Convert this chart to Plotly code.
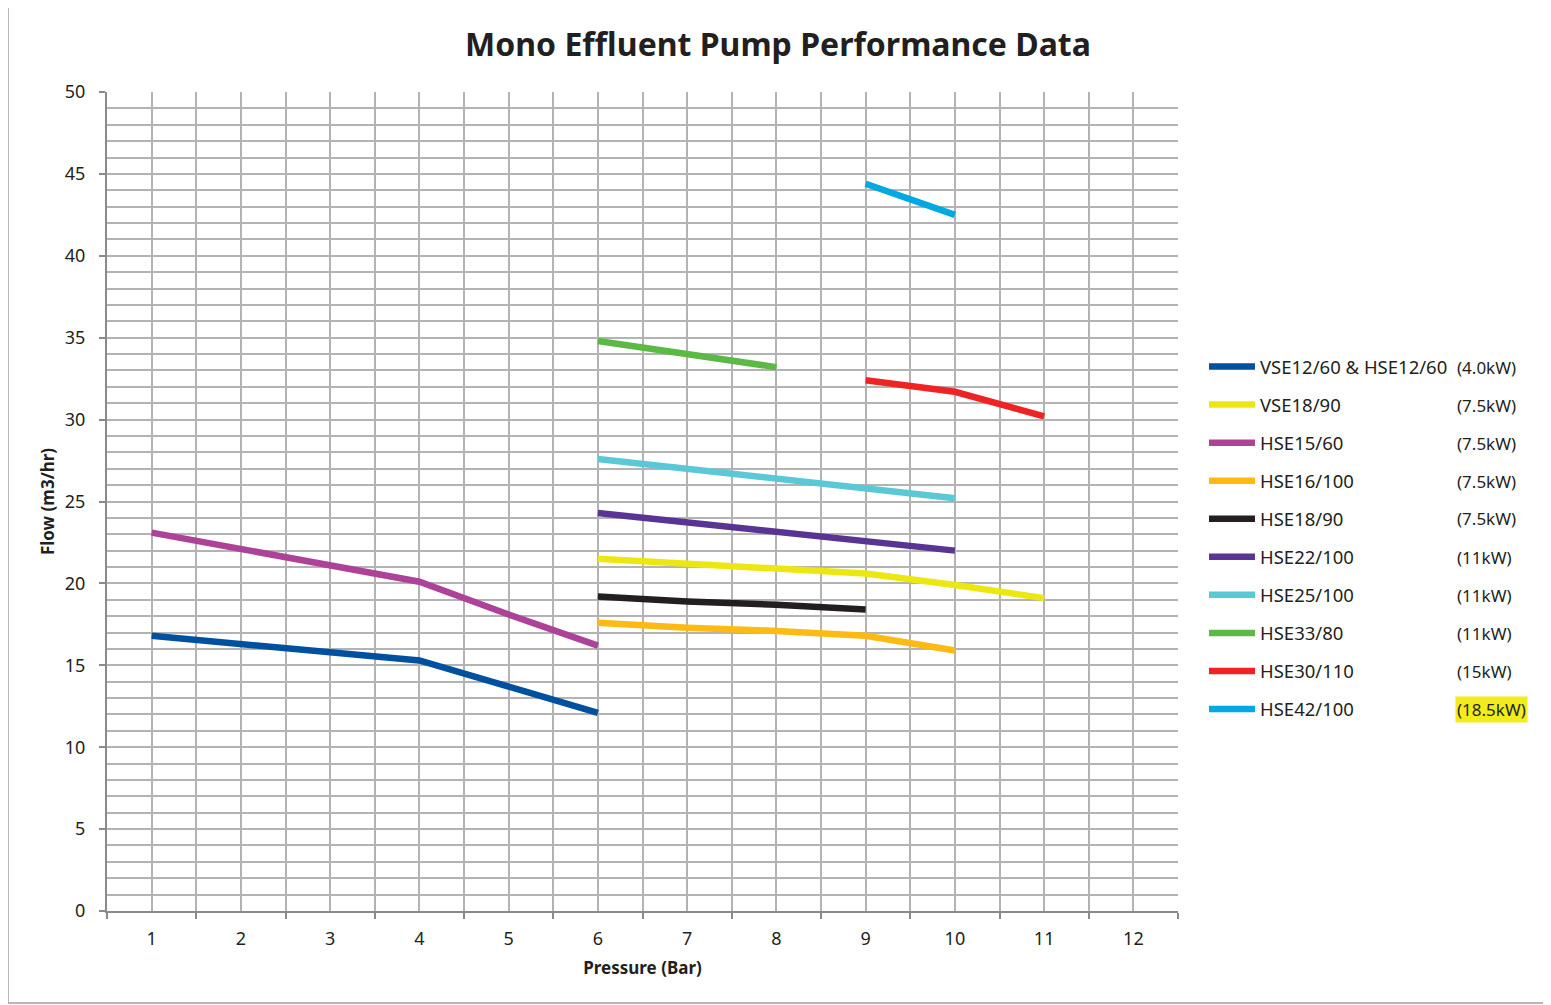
import plotly.graph_objects as go

title = "Mono Effluent Pump Performance Data"
pressure_labels = [str(i) for i in range(1, 13)]

names = ["VSE12/60 & HSE12/60", "VSE18/90", "HSE15/60", "HSE16/100", "HSE18/90",
         "HSE22/100", "HSE25/100", "HSE33/80", "HSE30/110", "HSE42/100"]
powers = ["(4.0kW)", "(7.5kW)", "(7.5kW)", "(7.5kW)", "(7.5kW)",
          "(11kW)", "(11kW)", "(11kW)", "(15kW)", "(18.5kW)"]
colors = ["#0050A0", "#EDE711", "#AD4399", "#FDBA12", "#231F20",
          "#5A3493", "#5BC8D8", "#5CB946", "#EE2424", "#00A9E0"]

vse12_x = [1, 2, 3, 4, 5, 6]
vse12_y = [16.8, 16.3, 15.8, 15.3, 13.7, 12.1]
vse18_x = [6, 7, 8, 9, 10, 11]
vse18_y = [21.5, 21.2, 20.9, 20.6, 19.9, 19.1]
hse15_x = [1, 2, 3, 4, 5, 6]
hse15_y = [23.1, 22.1, 21.1, 20.1, 18.1, 16.2]
hse16_x = [6, 7, 8, 9, 10]
hse16_y = [17.6, 17.3, 17.1, 16.8, 15.9]
hse18_x = [6, 7, 8, 9]
hse18_y = [19.2, 18.9, 18.7, 18.4]
hse22_x = [6, 7, 8, 9, 10]
hse22_y = [24.3, 23.7, 23.2, 22.6, 22.0]
hse25_x = [6, 7, 8, 9, 10]
hse25_y = [27.6, 27.0, 26.4, 25.8, 25.2]
hse33_x = [6, 7, 8]
hse33_y = [34.8, 34.0, 33.2]
hse30_x = [9, 10, 11]
hse30_y = [32.4, 31.7, 30.2]
hse42_x = [9, 10]
hse42_y = [44.4, 42.5]

series_x = [vse12_x, vse18_x, hse15_x, hse16_x, hse18_x, hse22_x, hse25_x, hse33_x, hse30_x, hse42_x]
series_y = [vse12_y, vse18_y, hse15_y, hse16_y, hse18_y, hse22_y, hse25_y, hse33_y, hse30_y, hse42_y]

FONT = "Noto Sans"
fig = go.Figure()
for i, (n, c, xs, ys) in enumerate(zip(names, colors, series_x, series_y)):
    fig.add_trace(go.Scatter(x=xs, y=ys, mode="lines", name=n,
                             line=dict(color=c, width=6.5), legendgroup=f"g{i}"))

OFF = 8  # page body margin
W, H = 1551 - OFF, 1005 - OFF
L, R, T, B = 107, 1178, 92, 911  # plot area in screen pixels
pw, ph = R - L, B - T

def px2x(px):
    return (px - L) / pw

def py2y(py):
    return (B - py) / ph

annotations = []
for i, p in enumerate(powers):
    py = 367 + 38 * i
    annotations.append(dict(
        x=px2x(1455), y=py2y(py), xref="paper", yref="paper",
        text=p, showarrow=False, xanchor="left", yanchor="middle",
        font=dict(family=FONT, size=17, color="#231F20"),
        bgcolor="#F2EC1C" if i == 9 else None, borderpad=1))

fig.update_layout(
    width=W, height=H,
    margin=dict(l=L - OFF, r=W - (R - OFF), t=T - OFF, b=H - (B - OFF)),
    paper_bgcolor="white", plot_bgcolor="white",
    title=dict(text="<b>" + title + "</b>", x=(778 - OFF) / W, xanchor="center",
               y=1 - (45 - OFF) / H, yanchor="middle",
               font=dict(family=FONT, size=32, color="#231F20")),
    font=dict(family=FONT, size=17, color="#231F20"),
    legend=dict(x=px2x(1204), y=py2y(348), xanchor="left", yanchor="top",
                traceorder="grouped", tracegroupgap=11, itemwidth=46,
                font=dict(family=FONT, size=18.5, color="#231F20"),
                bgcolor="rgba(0,0,0,0)"),
    annotations=annotations,
    shapes=[dict(type="rect", xref="paper", yref="paper",
                 x0=px2x(8), x1=px2x(1549), y0=py2y(1003), y1=py2y(3),
                 line=dict(color="#A0A0A0", width=1.5), layer="below")],
)

fig.update_xaxes(
    range=[0.5, 12.5], tickmode="array",
    tickvals=list(range(1, 13)), ticktext=pressure_labels,
    ticks="", showgrid=True, gridcolor="#B3B3B3", gridwidth=1.5,
    showline=True, linecolor="#8A8A8A", linewidth=2, zeroline=False,
    tickfont=dict(family=FONT, size=18, color="#231F20"), ticklabelstandoff=10,
    minor=dict(tickmode="linear", tick0=0.5, dtick=1, ticks="outside", ticklen=6,
               tickcolor="#8A8A8A", tickwidth=2, showgrid=True,
               gridcolor="#B3B3B3", gridwidth=1.5),
    title=dict(text="<b>Pressure (Bar)</b>", font=dict(family=FONT, size=17, color="#231F20"), standoff=14),
)
fig.update_yaxes(
    range=[0, 50], tickmode="linear", tick0=0, dtick=5,
    ticks="outside", ticklen=6, tickcolor="#8A8A8A", tickwidth=2,
    showgrid=True, gridcolor="#B3B3B3", gridwidth=1.5,
    showline=True, linecolor="#8A8A8A", linewidth=2, zeroline=False,
    tickfont=dict(family=FONT, size=18, color="#231F20"), ticklabelstandoff=10,
    minor=dict(tickmode="linear", tick0=0, dtick=1, ticks="", showgrid=True,
               gridcolor="#B3B3B3", gridwidth=1.5),
    title=dict(text="<b>Flow (m3/hr)</b>", font=dict(family=FONT, size=17, color="#231F20"), standoff=6),
)

fig.write_html("out.html")
